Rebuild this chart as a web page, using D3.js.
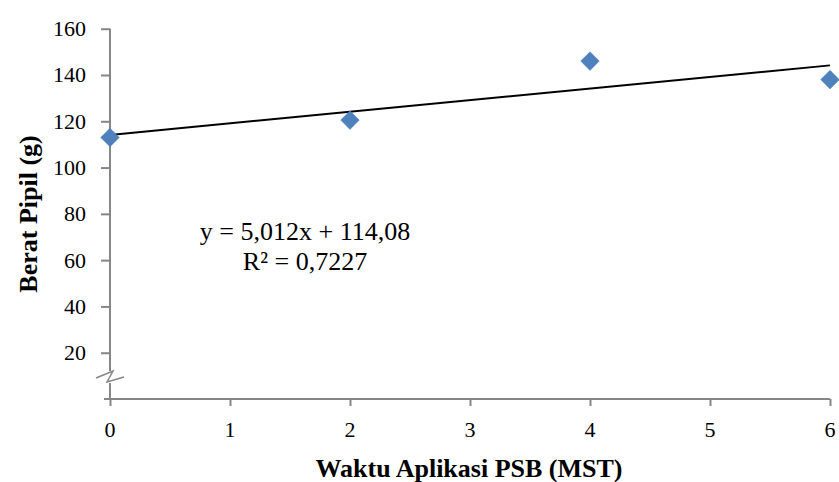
<!DOCTYPE html>
<html>
<head>
<meta charset="utf-8">
<script src="https://cdn.jsdelivr.net/npm/d3@7"></script>
<style>
  body { margin: 0; background: #fff; }
  text { font-family: "Liberation Serif", "Times New Roman", serif; }
</style>
</head>
<body>
<script>
// data
const xVals = [0, 2, 4, 6];
const yVals = [113, 120.5, 146, 138];
const xTicks = [0, 1, 2, 3, 4, 5, 6];
const yTicks = [20, 40, 60, 80, 100, 120, 140, 160];
const slope = 5.012, intercept = 114.08;
const eqLines = ["y = 5,012x + 114,08", "R² = 0,7227"];

const width = 839, height = 482;
const svg = d3.select("body").append("svg")
  .attr("width", width)
  .attr("height", height);

const x = d3.scaleLinear().domain([0, 6]).range([110, 830]);
const y = d3.scaleLinear().domain([0, 160]).range([399, 28.7]);
const axisColor = "#868686";

// y axis (lines from d3, labels drawn below)
const yAxis = svg.append("g")
  .attr("transform", `translate(${x(0)},0)`)
  .call(d3.axisLeft(y).tickValues(yTicks).tickSize(9).tickFormat(""));
yAxis.select(".domain").attr("d", `M0,${y(160)}V${y(0)}`)
  .attr("stroke", axisColor).attr("stroke-width", 2);
yAxis.selectAll("line").attr("stroke", axisColor).attr("stroke-width", 2);

svg.append("g").selectAll("text")
  .data(yTicks)
  .enter().append("text")
  .attr("x", x(0) - 24)
  .attr("y", d => y(d) + 7.5)
  .attr("text-anchor", "end")
  .attr("font-size", 22)
  .attr("fill", "#000")
  .text(d => d);

// x axis
const xAxis = svg.append("g")
  .attr("transform", `translate(0,${y(0)})`)
  .call(d3.axisBottom(x).tickValues(xTicks).tickSize(7).tickFormat(""));
xAxis.select(".domain").attr("d", `M${x(0) - 6},0H${x(6)}`)
  .attr("stroke", axisColor).attr("stroke-width", 2);
xAxis.selectAll("line").attr("stroke", axisColor).attr("stroke-width", 2);

svg.append("g").selectAll("text")
  .data(xTicks)
  .enter().append("text")
  .attr("x", d => x(d))
  .attr("y", y(0) + 38)
  .attr("text-anchor", "middle")
  .attr("font-size", 22)
  .attr("fill", "#000")
  .text(d => d);

// axis break
const by = 377;
svg.append("rect").attr("x", x(0) - 3).attr("y", by - 6).attr("width", 6).attr("height", 12).attr("fill", "#fff");
svg.append("path")
  .attr("d", `M${x(0) - 14},${by + 1}L${x(0) + 3},${by - 6}L${x(0) - 3},${by + 5}L${x(0) + 14},${by}`)
  .attr("fill", "none")
  .attr("stroke", axisColor)
  .attr("stroke-width", 1.5);

// trendline
svg.append("line")
  .attr("x1", x(0)).attr("y1", y(intercept))
  .attr("x2", x(6)).attr("y2", y(intercept + slope * 6))
  .attr("stroke", "#000")
  .attr("stroke-width", 2);

// points
const pts = xVals.map((v, i) => [v, yVals[i]]);
svg.selectAll("path.pt")
  .data(pts)
  .enter().append("path")
  .attr("class", "pt")
  .attr("d", d3.symbol().type(d3.symbolDiamond2).size(220))
  .attr("transform", d => `translate(${x(d[0])},${y(d[1])})`)
  .attr("fill", "#4F81BD")
  .attr("stroke", "#4A7EBB")
  .attr("stroke-width", 0.5);

// equation
const eq = svg.append("text")
  .attr("x", 305)
  .attr("y", 240)
  .attr("text-anchor", "middle")
  .attr("font-size", 26)
  .attr("fill", "#000");
eqLines.forEach((t, i) => {
  eq.append("tspan").attr("x", 305).attr("dy", i === 0 ? 0 : 30).text(t);
});

// axis titles
svg.append("text")
  .attr("x", 469)
  .attr("y", 477)
  .attr("text-anchor", "middle")
  .attr("font-weight", "bold")
  .attr("font-size", 26)
  .text("Waktu Aplikasi PSB (MST)");

svg.append("text")
  .attr("transform", `translate(37,${214}) rotate(-90)`)
  .attr("text-anchor", "middle")
  .attr("font-weight", "bold")
  .attr("font-size", 26)
  .text("Berat Pipil (g)");
</script>
</body>
</html>
